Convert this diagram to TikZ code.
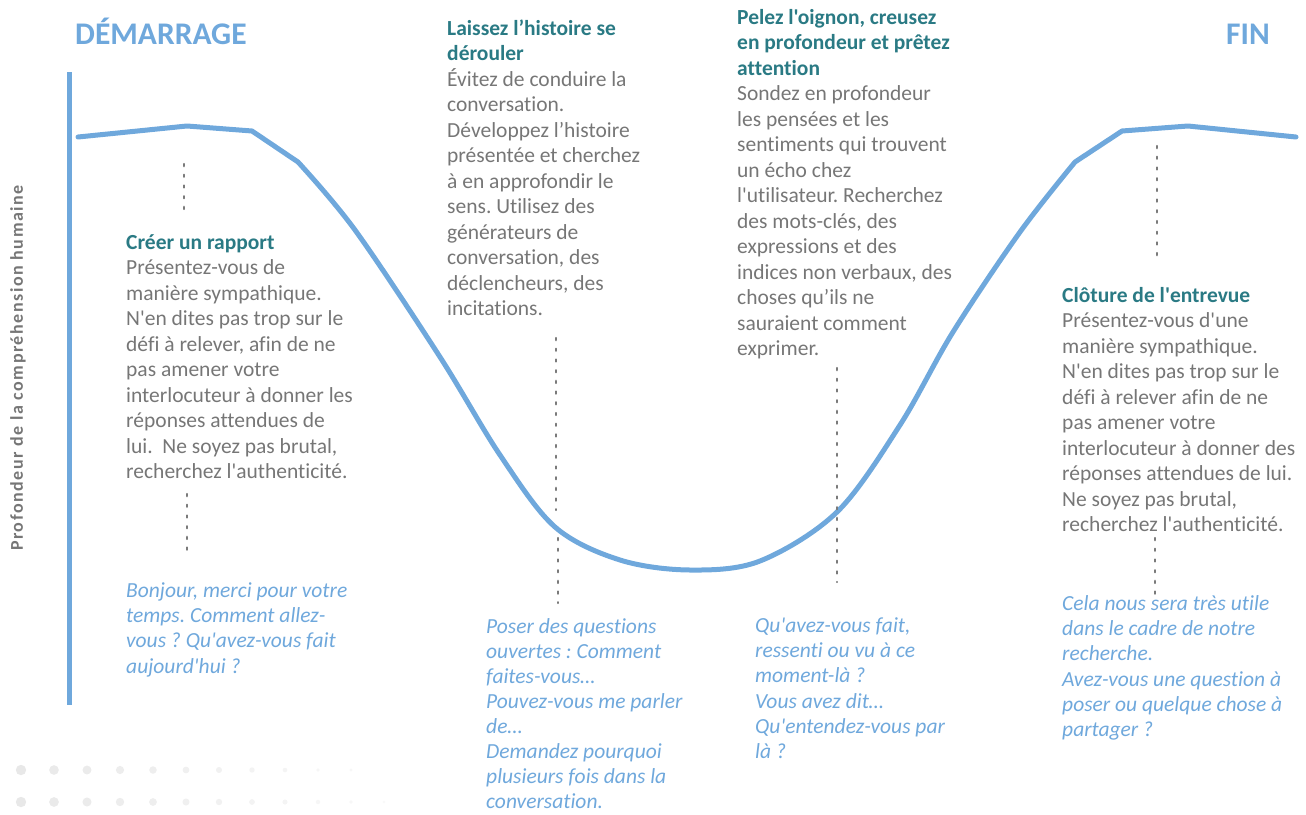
\documentclass[tikz,border=0pt]{standalone}
\usepackage{fontspec}
\setmainfont{Carlito}[Ligatures={TeXOff,NoCommon}]
\newfontfamily\axefont{Carlito}[Ligatures={TeXOff,NoCommon}, LetterSpace=8.5]
\usetikzlibrary{positioning}

\definecolor{courbe}{HTML}{6FA8DC}
\definecolor{titre}{HTML}{2A7A84}
\definecolor{texte}{HTML}{767676}
\definecolor{pointille}{HTML}{7A7A7A}

% strut so that every block starts 18pt above its first baseline
\newcommand{\hautligne}{\rule{0pt}{18pt}}
\frenchspacing

\tikzset{
  bloc/.style={anchor=north west, inner sep=0pt, align=left, text=texte,
    font=\fontsize{21.5}{25.5}\selectfont},
  question/.style={bloc, text=courbe, font=\fontsize{21.5}{25.3}\selectfont\itshape},
  entete/.style={inner sep=0pt, text=courbe, font=\fontsize{31.5}{36}\selectfont\bfseries},
  guide/.style={pointille, line width=2.2pt, dash pattern=on 2.2pt off 8.5pt},
}

\begin{document}
\begin{tikzpicture}[x=1pt,y=-1pt,line join=round,line cap=round]
\useasboundingbox (0,0) rectangle (1306,814);

% axe vertical
\draw[courbe, line width=5pt, line cap=butt] (69,72) -- (69,705);
\node[rotate=90, inner sep=0pt, text=texte, font=\axefont\fontsize{18}{21}\selectfont\bfseries] (axe) at (18,368)
  {Profondeur de la compréhension humaine};

% titres
\node[entete, anchor=base west] (debut) at (75,44) {DÉMARRAGE};
\node[entete, anchor=base east] (fin) at (1270,44) {FIN};

% la courbe
\draw[courbe, line width=5pt]
  (78,137) -- (187,126) -- (252,131) -- (298,162)
  -- plot[smooth, tension=0.55] coordinates {(298,162) (355,230) (440,357) (500,455) (555,527)
     (620,560) (690,570) (760,561) (837,512) (900,425) (953,332) (1020,232) (1075,162)}
  -- (1122,131) -- (1188,126) -- (1296,137);

% blocs de texte
\node[bloc] (rapport) at (126,231) {\hautligne{\color{titre}\bfseries Créer un rapport}\\
  Présentez-vous de\\
  manière sympathique.\\
  N'en dites pas trop sur le\\
  défi à relever, afin de ne\\
  pas amener votre\\
  interlocuteur à donner les\\
  réponses attendues de\\
  lui.\ \ Ne soyez pas brutal,\\
  recherchez l'authenticité.};

\node[bloc] (histoire) at (447,17) {\hautligne{\color{titre}\bfseries Laissez l’histoire se}\\
  {\color{titre}\bfseries dérouler}\\
  Évitez de conduire la\\
  conversation.\\
  Développez l’histoire\\
  présentée et cherchez\\
  à en approfondir le\\
  sens. Utilisez des\\
  générateurs de\\
  conversation, des\\
  déclencheurs, des\\
  incitations.};

\node[bloc] (oignon) at (737,6) {\hautligne{\color{titre}\bfseries Pelez l'oignon, creusez}\\
  {\color{titre}\bfseries en profondeur et prêtez}\\
  {\color{titre}\bfseries attention}\\
  Sondez en profondeur\\
  les pensées et les\\
  sentiments qui trouvent\\
  un écho chez\\
  l'utilisateur. Recherchez\\
  des mots-clés, des\\
  expressions et des\\
  indices non verbaux, des\\
  choses qu’ils ne\\
  sauraient comment\\
  exprimer.};

\node[bloc] (cloture) at (1062,284) {\hautligne{\color{titre}\bfseries Clôture de l'entrevue}\\
  Présentez-vous d'une\\
  manière sympathique.\\
  N'en dites pas trop sur le\\
  défi à relever afin de ne\\
  pas amener votre\\
  interlocuteur à donner des\\
  réponses attendues de lui.\\
  Ne soyez pas brutal,\\
  recherchez l'authenticité.};

% questions types
\node[question] (q1) at (126,579) {\hautligne Bonjour, merci pour votre\\
  temps. Comment allez-\\
  vous ? Qu'avez-vous fait\\
  aujourd'hui ?};

\node[question, font=\fontsize{21.5}{25}\selectfont\itshape] (q2) at (486,615) {\hautligne Poser des questions\\
  ouvertes : Comment\\
  faites-vous…\\
  Pouvez-vous me parler\\
  de…\\
  Demandez pourquoi\\
  plusieurs fois dans la\\
  conversation.};

\node[question] (q3) at (755,614) {\hautligne Qu'avez-vous fait,\\
  ressenti ou vu à ce\\
  moment-là ?\\
  Vous avez dit…\\
  Qu'entendez-vous par\\
  là ?};

\node[question] (q4) at (1062,592) {\hautligne Cela nous sera très utile\\
  dans le cadre de notre\\
  recherche.\\
  Avez-vous une question à\\
  poser ou quelque chose à\\
  partager ?};

% pointillés
\coordinate (p1a) at (184,164);  \coordinate (p1b) at (184,210);
\coordinate (p2a) at (187,494);  \coordinate (p2b) at (187,558);
\coordinate (p3a) at (556,338);  \coordinate (p3b) at (556,510);
\coordinate (p3c) at (558,538);  \coordinate (p3d) at (558,603);
\coordinate (p4a) at (837,368);  \coordinate (p4b) at (837,582);
\coordinate (p5a) at (1157,146); \coordinate (p5b) at (1157,262);
\coordinate (p6a) at (1155,538); \coordinate (p6b) at (1155,594);
\draw[guide] (p1a) -- (p1b);
\draw[guide] (p2a) -- (p2b);
\draw[guide] (p3a) -- (p3b);
\draw[guide] (p3c) -- (p3d);
\draw[guide] (p4a) -- (p4b);
\draw[guide] (p5a) -- (p5b);
\draw[guide] (p6a) -- (p6b);

% points décoratifs
\foreach \i [evaluate=\i as \r using 5.2-0.36*\i, evaluate=\i as \g using 9-0.6*\i] in {0,...,10}
  \fill[black!\g] (21+33*\i,770) circle (\r);
\foreach \i [evaluate=\i as \r using 5.2-0.33*\i, evaluate=\i as \g using 9-0.6*\i] in {0,...,11}
  \fill[black!\g] (21+33*\i,802) circle (\r);
\end{tikzpicture}
\end{document}
